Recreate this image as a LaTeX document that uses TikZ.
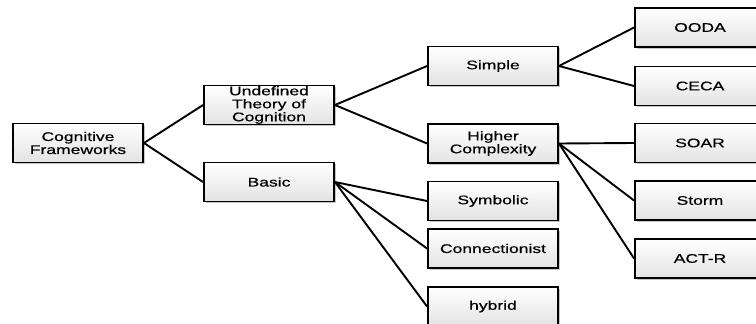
\documentclass[tikz,border=0pt]{standalone}
\usepackage{fontspec}
\setmainfont{Liberation Sans}[FakeStretch=1.4, FakeBold=0.6]
\usetikzlibrary{shadows}
\begin{document}
\begin{tikzpicture}[x=1pt,y=-1pt,
  box/.style={draw=black, line width=1.9pt, minimum width=130pt, minimum height=39pt,
    inner sep=0pt, align=center, top color=white, bottom color=gray!22,
    font=\fontsize{12.5}{13}\selectfont,
    drop shadow={shadow xshift=1.5pt, shadow yshift=-1.5pt, fill=gray!55, opacity=0.8}},
  link/.style={draw=black, line width=1.9pt}]
\useasboundingbox (0,0) rectangle (756,324);
\clip (0,0) rectangle (756,324);

% level 0
\node[box] (cf) at (78,143) {Cognitive\\Frameworks};
% level 1
\node[box] (utc) at (269,105) {Undefined\\Theory of\\Cognition};
\node[box] (basic) at (269,182) {Basic};
% level 2
\node[box] (simple) at (493,66) {Simple};
\node[box] (higher) at (493,143.5) {Higher\\Complexity};
\node[box] (symb) at (493,201) {Symbolic};
\node[box] (conn) at (493,248.5) {Connectionist};
\node[box] (hyb) at (493,306.5) {hybrid};
% level 3
\node[box] (ooda) at (700,27.5) {OODA};
\node[box] (ceca) at (700,86) {CECA};
\node[box] (soar) at (700,143) {SOAR};
\node[box] (storm) at (700,200.5) {Storm};
\node[box] (actr) at (700,258.5) {ACT-R};

% connectors, right edge of parent to left edge of child
\path[link] (cf.east) -- (utc.west);
\path[link] (cf.east) -- (basic.west);
\path[link] (utc.east) -- (simple.west);
\path[link] (utc.east) -- (higher.west);
\path[link] (basic.east) -- (symb.west);
\path[link] (basic.east) -- (conn.west);
\path[link] (basic.east) -- (hyb.west);
\path[link] (simple.east) -- (ooda.west);
\path[link] (simple.east) -- (ceca.west);
\path[link] (higher.east) -- (soar.west);
\path[link] (higher.east) -- (storm.west);
\path[link] (higher.east) -- (actr.west);
\end{tikzpicture}
\end{document}
